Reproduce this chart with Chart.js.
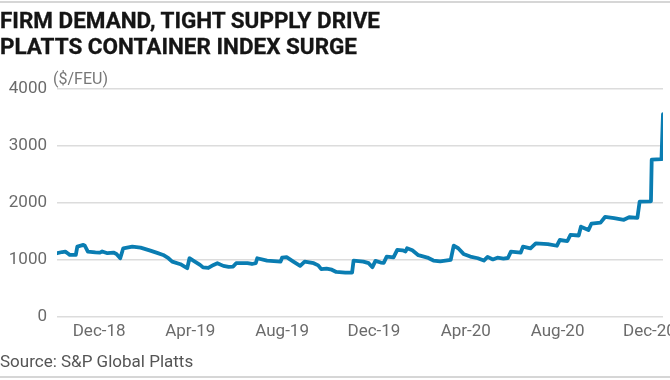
<!DOCTYPE html>
<html><head><meta charset="utf-8">
<script src="https://cdn.jsdelivr.net/npm/chart.js@4"></script>
<style>
html,body{margin:0;padding:0;background:#fff;width:670px;height:380px;overflow:hidden;}
#wrap{position:relative;width:670px;height:380px;}
canvas{position:absolute;left:0;top:0;}
.title{position:absolute;left:0;font-family:Roboto,sans-serif;font-weight:700;font-size:21.5px;line-height:26.7px;color:#151515;white-space:nowrap;transform-origin:0 0;-webkit-text-stroke:0.3px #151515;}
.rule{position:absolute;left:0;width:670px;height:2px;background:#d6d6d6;}
#unit{position:absolute;left:53px;top:68.5px;font-family:Roboto,sans-serif;font-size:16px;line-height:20px;color:#777;white-space:nowrap;}
#src{position:absolute;left:0;top:351px;font-family:Roboto,sans-serif;font-size:17px;line-height:20px;color:#555;white-space:nowrap;}
</style></head>
<body>
<div id="wrap">
<canvas id="c" width="670" height="380"></canvas>
<div class="rule" style="top:1px"></div>
<div id="t1" class="title" style="top:7.6px">FIRM DEMAND, TIGHT SUPPLY DRIVE</div>
<div id="t2" class="title" style="top:34.3px">PLATTS CONTAINER INDEX SURGE</div>
<div id="unit">($/FEU)</div>
<div id="src">Source: S&amp;P Global Platts</div>
<div class="rule" style="top:375.5px"></div>
</div>
<script>
const dates = [
"2018-10-06","2018-10-13","2018-10-17","2018-10-21","2018-10-23","2018-10-31","2018-11-02","2018-11-10","2018-11-12","2018-11-16",
"2018-11-26","2018-12-02","2018-12-05","2018-12-12","2018-12-20","2018-12-24","2018-12-29","2019-01-02","2019-01-14","2019-01-25",
"2019-02-07","2019-02-16","2019-02-24","2019-03-03","2019-03-08","2019-03-19","2019-03-25","2019-03-28","2019-03-31","2019-04-05",
"2019-04-14","2019-04-18","2019-04-25","2019-05-02","2019-05-07","2019-05-15","2019-05-22","2019-05-28","2019-06-01","2019-06-16",
"2019-06-22","2019-06-27","2019-06-29","2019-07-12","2019-07-30","2019-08-01","2019-08-07","2019-08-16","2019-08-25","2019-08-31",
"2019-09-12","2019-09-18","2019-09-22","2019-09-29","2019-10-06","2019-10-12","2019-10-24","2019-11-02","2019-11-04","2019-11-17",
"2019-11-24","2019-11-29","2019-12-03","2019-12-10","2019-12-14","2019-12-18","2019-12-27","2020-01-01","2020-01-08","2020-01-12",
"2020-01-14","2020-01-21","2020-01-29","2020-02-10","2020-02-18","2020-02-27","2020-03-12","2020-03-16","2020-03-22","2020-03-29",
"2020-04-07","2020-04-17","2020-04-25","2020-04-30","2020-05-07","2020-05-13","2020-05-21","2020-05-27","2020-05-31","2020-06-13",
"2020-06-16","2020-06-26","2020-07-03","2020-07-19","2020-07-31","2020-08-04","2020-08-14","2020-08-18","2020-08-29","2020-09-01",
"2020-09-11","2020-09-15","2020-09-27","2020-10-03","2020-10-15","2020-10-28","2020-11-04","2020-11-15","2020-11-18","2020-12-03",
"2020-12-04","2020-12-17","2020-12-19"
];
const values = [
1119,1140,1147,1110,1089,1089,1234,1264,1250,1147,
1135,1130,1150,1119,1130,1105,1031,1206,1234,1217,
1165,1125,1089,1031,972,926,880,856,1031,990,
914,870,860,914,944,897,880,885,944,944,
930,944,1031,990,972,1040,1049,972,897,972,
944,905,840,850,830,790,780,780,990,972,
944,874,985,955,950,1060,1045,1177,1170,1150,
1206,1170,1085,1043,990,975,1002,1252,1206,1107,
1060,1031,990,1055,1010,1040,1025,1035,1147,1130,
1234,1205,1293,1280,1250,1351,1333,1439,1430,1585,
1526,1640,1655,1755,1735,1705,1750,1740,2025,2030,
2760,2770,3560
];
const tickDates = ["2018-12-01","2019-04-01","2019-08-01","2019-12-01","2020-04-01","2020-08-01","2020-12-01"];
const tickLabels = ["Dec-18","Apr-19","Aug-19","Dec-19","Apr-20","Aug-20","Dec-20"];
const yTicks = [0,1000,2000,3000,4000];
const yTickLabels = ["0","1000","2000","3000","4000"];
const startDate = "2018-10-06";
const endDate = "2020-12-19";

// title width fit
const t1 = document.getElementById('t1'), t2 = document.getElementById('t2');
const w1 = t1.getBoundingClientRect().width;
const sx = 380 / w1;
t1.style.transform = 'scaleX(' + sx + ')';
t2.style.transform = 'scaleX(' + sx + ')';

const tickFont = {family: 'Roboto', size: 17};
const tickColor = '#6b6b6b';

new Chart(document.getElementById('c'), {
  type: 'line',
  data: {
    datasets: [{
      data: dates.map((d, i) => ({x: Date.parse(d), y: values[i]})),
      borderColor: '#0a7db2',
      borderWidth: 3.8,
      pointRadius: 0,
      tension: 0,
      fill: false,
      borderJoinStyle: 'round',
      borderCapStyle: 'round'
    }]
  },
  options: {
    responsive: false,
    animation: false,
    devicePixelRatio: 1,
    layout: {padding: {top: 89, right: 7, bottom: 33, left: 0}},
    plugins: {legend: {display: false}, tooltip: {enabled: false}},
    scales: {
      x: {
        type: 'linear',
        min: Date.parse(startDate),
        max: Date.parse(endDate),
        afterBuildTicks: s => { s.ticks = tickDates.map(d => ({value: Date.parse(d)})); },
        ticks: {autoSkip: false, maxRotation: 0, minRotation: 0, color: tickColor, font: tickFont, padding: 5,
                callback: (v, i) => tickLabels[i]},
        grid: {display: false, drawTicks: false},
        border: {display: false},
        afterFit: s => { s.height = 30; s.paddingLeft = 0; s.paddingRight = 0; }
      },
      y: {
        min: 0, max: 4000,
        afterBuildTicks: s => { s.ticks = yTicks.map(v => ({value: v})); },
        ticks: {color: tickColor, font: tickFont, padding: 10,
                callback: (v, i) => yTickLabels[i]},
        grid: {color: '#dcdcdc', lineWidth: 1.5, drawTicks: false},
        border: {display: false},
        afterFit: s => { s.width = 57; s.paddingTop = 0; s.paddingBottom = 0; }
      }
    }
  }
});
</script>
</body></html>
